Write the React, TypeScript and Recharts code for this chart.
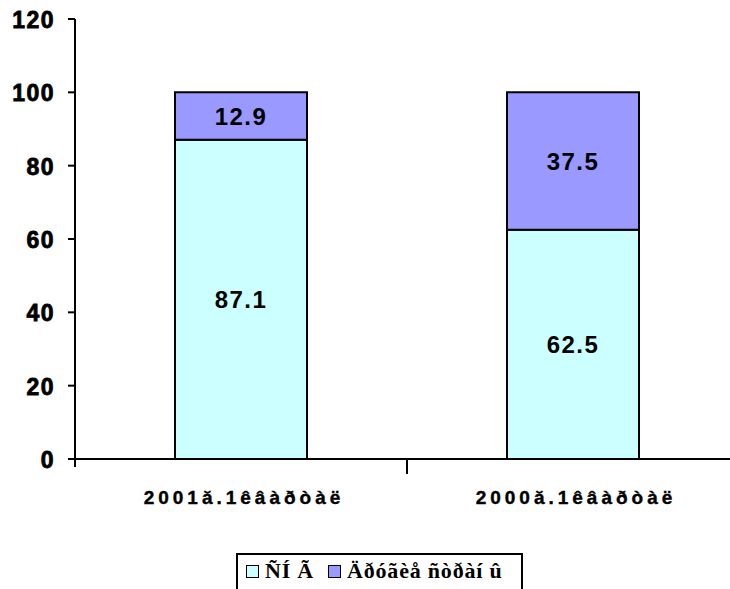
import { BarChart, Bar, XAxis, YAxis, LabelList } from 'recharts'

const categories = ['2001ă.1êâàðòàë', '2000ă.1êâàðòàë']
const cisValues = [87.1, 62.5]
const otherValues = [12.9, 37.5]
const seriesNames = ['ÑÍ Ã', 'Äðóãèå ñòðàí û']
const yTicks = [0, 20, 40, 60, 80, 100, 120]

const COLORS = ['#CCFFFF', '#9999FF']
const SANS = 'Liberation Sans'

const data = categories.map((name, i) => ({ name, cis: cisValues[i], other: otherValues[i] }))

const BAND = 332

function CategoryTick(props: any) {
  const { x, y, payload, index } = props
  return (
    <g>
      {index === 0 && <line x1={x - BAND / 2} x2={x - BAND / 2} y1={y - 8} y2={y} stroke="#000" strokeWidth={2} />}
      <line x1={x + BAND / 2} x2={x + BAND / 2} y1={y - 8} y2={y + 7} stroke="#000" strokeWidth={2} />
      <text
        x={x + 3}
        y={y + 37}
        textAnchor="middle"
        fill="#000"
        stroke="#000"
        strokeWidth={0.4}
        fontSize={19}
        fontWeight={700}
        fontFamily={SANS}
        letterSpacing={4}
      >
        {payload.value}
      </text>
    </g>
  )
}

function ValueTick(props: any) {
  const { x, y, payload } = props
  return (
    <text
      x={x - 8}
      y={y}
      dy={9}
      textAnchor="end"
      fill="#000"
      stroke="#000"
      strokeWidth={0.8}
      fontSize={23}
      fontWeight={700}
      fontFamily={SANS}
      letterSpacing={1.5}
    >
      {payload.value}
    </text>
  )
}

export default function App() {
  return (
    <div style={{ position: 'absolute', left: 0, top: 0, width: 730, height: 589, overflow: 'hidden', background: '#fff' }}>
      <BarChart width={740} height={589} data={data} margin={{ top: 19, right: 1, bottom: 0, left: 0 }}>
        <YAxis
          type="number"
          domain={[0, 120]}
          ticks={yTicks}
          width={75}
          axisLine={{ stroke: '#000', strokeWidth: 2 }}
          tickLine={{ stroke: '#000', strokeWidth: 2 }}
          tickSize={7}
          tickMargin={5}
          tick={ValueTick}
        />
        <XAxis
          dataKey="name"
          height={130}
          axisLine={{ stroke: '#000', strokeWidth: 2 }}
          tickLine={false}
          tick={CategoryTick}
          interval={0}
        />
        <Bar dataKey="cis" stackId="a" name={seriesNames[0]} fill={COLORS[0]} stroke="#000" strokeWidth={2} barSize={132} isAnimationActive={false}>
          <LabelList dataKey="cis" position="center" fill="#000" fontSize={24} fontWeight={700} fontFamily={SANS} letterSpacing={1.5} />
        </Bar>
        <Bar dataKey="other" stackId="a" name={seriesNames[1]} fill={COLORS[1]} stroke="#000" strokeWidth={2} barSize={132} isAnimationActive={false}>
          <LabelList dataKey="other" position="center" fill="#000" fontSize={24} fontWeight={700} fontFamily={SANS} letterSpacing={1.5} />
        </Bar>
      </BarChart>
      <div
        style={{
          position: 'absolute',
          left: 236,
          top: 553,
          width: 287,
          height: 42,
          border: '2px solid #000',
          display: 'flex',
          alignItems: 'flex-start',
          paddingTop: 5,
          paddingLeft: 8,
          boxSizing: 'border-box',
          fontFamily: '"Liberation Serif", "Times New Roman", serif',
          fontWeight: 700,
          fontSize: 22,
          color: '#000',
        }}
      >
        {seriesNames.map((name, i) => (
          <div key={name} style={{ display: 'flex', alignItems: 'center', marginRight: 14 }}>
            <span style={{ display: 'inline-block', width: 11, height: 11, background: COLORS[i], border: '1.5px solid #000', marginRight: 6 }} />
            <span style={{ lineHeight: '22px', letterSpacing: 0.8 }}>{name}</span>
          </div>
        ))}
      </div>
    </div>
  )
}
